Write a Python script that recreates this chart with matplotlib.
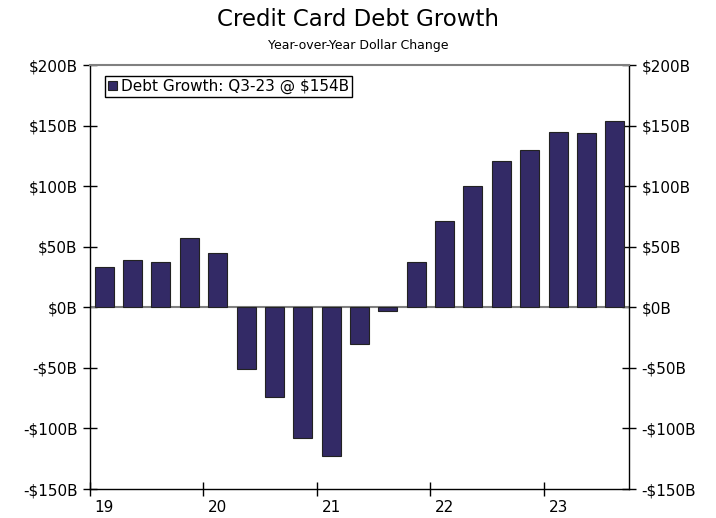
import numpy as np
import matplotlib.pyplot as plt

# YoY dollar change in credit card debt, $B, Q1-19 .. Q3-23
quarters = ["Q1-19", "Q2-19", "Q3-19", "Q4-19",
            "Q1-20", "Q2-20", "Q3-20", "Q4-20",
            "Q1-21", "Q2-21", "Q3-21", "Q4-21",
            "Q1-22", "Q2-22", "Q3-22", "Q4-22",
            "Q1-23", "Q2-23", "Q3-23"]
growth = [33, 39, 37, 57, 45, -51, -74, -108, -123, -30, -3, 37,
          71, 100, 121, 130, 145, 144, 154]
year_labels = ["19", "20", "21", "22", "23"]
y_ticks = [-150, -100, -50, 0, 50, 100, 150, 200]

fig = plt.figure(figsize=(7.16, 5.18), dpi=100)
ax = fig.add_axes([90/716, 1 - 489/518, (629 - 90)/716, (489 - 65)/518])

x = np.arange(len(growth)) + 0.5
ax.bar(x, growth, width=0.67, color="#332a66", edgecolor="#222222", linewidth=0.8,
       label=f"Debt Growth: {quarters[-1]} @ ${growth[-1]}B", zorder=3)
ax.axhline(0, color="#808080", lw=1.5, zorder=2)

ax.set_xlim(0, len(growth))
ax.set_ylim(-150, 200)

# year ticks at start of each year, labels shifted half a quarter right
ax.set_xticks(np.arange(0, len(growth), 4))
ax.set_xticklabels([])
ax.set_xticks(np.arange(0, len(growth), 4) + 0.5, minor=True)
ax.set_xticklabels(year_labels, minor=True)
ax.tick_params(axis="x", which="major", direction="inout", length=10, width=1)
ax.tick_params(axis="x", which="minor", length=0, pad=8, labelsize=11)

fmt = lambda v: f"${v}B" if v >= 0 else f"-${-v}B"
ax.set_yticks(y_ticks)
ax.set_yticklabels([fmt(v) for v in y_ticks])
ax.tick_params(axis="y", direction="inout", length=10, width=1, labelsize=11,
               right=True, labelright=True, pad=4)

for s in ["left", "right", "bottom"]:
    ax.spines[s].set_color("black")
    ax.spines[s].set_linewidth(1)
ax.spines["top"].set_color("#808080")
ax.spines["top"].set_linewidth(1.5)

fig.text(0.5, 1 - 19/518, "Credit Card Debt Growth", ha="center", va="center", fontsize=16.5)
fig.text(0.5, 1 - 45/518, "Year-over-Year Dollar Change", ha="center", va="center", fontsize=9)

leg = ax.legend(loc="upper left", bbox_to_anchor=(0.02, 0.985), fontsize=11,
                frameon=True, fancybox=False, framealpha=1, edgecolor="black",
                handlelength=0.55, handleheight=0.6, handletextpad=0.25,
                borderpad=0.2, borderaxespad=0.3)
leg.get_frame().set_linewidth(1)

fig.savefig("out.png", dpi=100)
